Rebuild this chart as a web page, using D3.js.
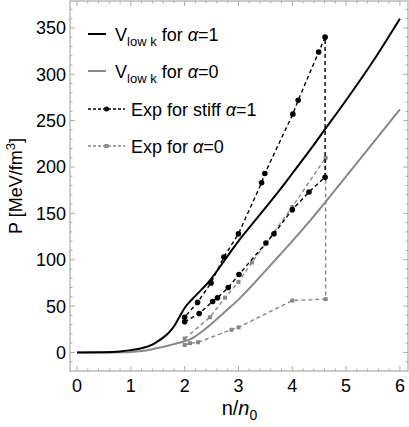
<!DOCTYPE html>
<html>
<head>
<meta charset="utf-8">
<script src="https://cdn.jsdelivr.net/npm/d3@7"></script>
<style>
body { margin: 0; background: #fff; }
text { font-family: "Liberation Sans", Arial, sans-serif; }
</style>
</head>
<body>
<script>
let width = 409, height = 427

// V_low k curves (n/n0 -> P)
let vlowX = [0, 0.5, 0.8, 1.0, 1.2, 1.4, 1.5, 1.6, 1.7, 1.8, 1.9, 2.0, 2.1, 2.2, 2.3, 2.4, 2.5, 2.75, 3.0, 3.25, 3.5, 3.75, 4.0, 4.3, 4.6, 5.0, 5.5, 6.0]
let vlowA1 = [0, 0.2, 1, 2.5, 4.5, 8.5, 12, 16, 21, 28, 38, 48, 55, 61, 67, 73, 80, 100, 120, 138, 156, 174, 193, 216, 240, 272, 314, 360]
let vlowA0 = [0, 0, 0.2, 0.5, 1.5, 3.5, 4.7, 6, 7.5, 9, 10.5, 12, 14, 17.5, 21.5, 26, 31, 44, 57, 72, 88, 104, 120, 140, 161, 190, 226, 262]

// Exp stiff alpha=1: lower branch then upper branch
let expA1x = [2.0, 2.27, 2.52, 2.61, 2.81, 3.01, 3.51, 3.66, 4.0, 4.31, 4.61, 4.61, 4.49, 4.11, 4.01, 3.49, 3.43, 3.0, 2.73, 2.49, 2.24, 2.0]
let expA1y = [33, 42, 55, 59, 70, 84, 118, 128, 154, 173, 189, 340, 324, 272, 257, 193, 183, 128, 103, 75, 54, 38]

// Exp alpha=0: lower branch then upper branch
let expA0x = [2.0, 2.1, 2.25, 2.87, 3.0, 4.0, 4.62, 4.62, 4.0, 3.25, 3.0, 2.75, 2.47, 2.0]
let expA0y = [8, 10, 11, 24.5, 27, 56, 57.5, 210, 157, 97, 76, 59, 38, 15]

let xTicks = [0, 1, 2, 3, 4, 5, 6]
let yTicks = [0, 50, 100, 150, 200, 250, 300, 350]

let mLeft = 70, mRight = 408, mTop = 1, mBottom = 371
let x = d3.scaleLinear().domain([-0.13, 6.15]).range([mLeft, mRight])
let y = d3.scaleLinear().domain([-20, 379]).range([mBottom, mTop])

let svg = d3.select("body").append("svg")
    .attr("width", width)
    .attr("height", height)

let frameColor = "#999"
let black = "#000", gray = "#888"

// frame
svg.append("rect")
    .attr("x", mLeft).attr("y", mTop)
    .attr("width", mRight - mLeft).attr("height", mBottom - mTop)
    .attr("fill", "none").attr("stroke", frameColor).attr("stroke-width", 1)

// ticks (inward, all four sides)
let ticks = svg.append("g").attr("stroke", frameColor).attr("stroke-width", 0.8)
d3.range(0, 6.01, 0.2).forEach(v => {
    let major = Math.abs(v - Math.round(v)) < 1e-6
    let len = major ? 5 : 2.5
    ticks.append("line").attr("x1", x(v)).attr("x2", x(v)).attr("y1", mBottom).attr("y2", mBottom - len)
    ticks.append("line").attr("x1", x(v)).attr("x2", x(v)).attr("y1", mTop).attr("y2", mTop + len)
})
d3.range(-10, 371, 10).forEach(v => {
    let major = v % 50 === 0
    let len = major ? 5 : 2.5
    ticks.append("line").attr("y1", y(v)).attr("y2", y(v)).attr("x1", mLeft).attr("x2", mLeft + len)
    ticks.append("line").attr("y1", y(v)).attr("y2", y(v)).attr("x1", mRight).attr("x2", mRight - len)
})

// tick labels
svg.append("g").selectAll("text").data(xTicks).join("text")
    .attr("x", d => x(d)).attr("y", 392)
    .attr("text-anchor", "middle")
    .attr("font-size", 18)
    .text(d => d)
svg.append("g").selectAll("text").data(yTicks).join("text")
    .attr("x", 66).attr("y", d => y(d) + 6.5)
    .attr("text-anchor", "end")
    .attr("font-size", 18)
    .text(d => d)

// axis labels
let xl = svg.append("text").attr("x", x(3) + 1).attr("y", 415)
    .attr("text-anchor", "middle").attr("font-size", 20)
xl.append("tspan").text("n/")
xl.append("tspan").attr("font-style", "italic").text("n")
xl.append("tspan").attr("font-size", 14).attr("dy", 5).text("0")

let yl = svg.append("text")
    .attr("transform", "translate(22,186) rotate(-90)")
    .attr("text-anchor", "middle").attr("font-size", 18)
yl.append("tspan").text("P [MeV/fm")
yl.append("tspan").attr("font-size", 13).attr("dy", -7).text("3")
yl.append("tspan").attr("dy", 7).text("]")

// curves
let lineSmooth = d3.line()
    .x(d => x(d[0])).y(d => y(d[1]))
    .curve(d3.curveMonotoneX)
let lineStraight = d3.line()
    .x(d => x(d[0])).y(d => y(d[1]))

let plot = svg.append("g")

plot.append("path")
    .attr("d", lineSmooth(d3.zip(vlowX, vlowA0)))
    .attr("fill", "none").attr("stroke", gray).attr("stroke-width", 2)
plot.append("path")
    .attr("d", lineSmooth(d3.zip(vlowX, vlowA1)))
    .attr("fill", "none").attr("stroke", black).attr("stroke-width", 2)

let exp0 = d3.zip(expA0x, expA0y)
plot.append("path")
    .attr("d", lineStraight(exp0))
    .attr("fill", "none").attr("stroke", gray).attr("stroke-width", 1.4)
    .attr("stroke-dasharray", "4,3")
plot.append("g").selectAll("rect").data(exp0).join("rect")
    .attr("x", d => x(d[0]) - 2).attr("y", d => y(d[1]) - 2)
    .attr("width", 4).attr("height", 4)
    .attr("fill", gray)

let exp1 = d3.zip(expA1x, expA1y)
plot.append("path")
    .attr("d", lineStraight(exp1))
    .attr("fill", "none").attr("stroke", black).attr("stroke-width", 1.4)
    .attr("stroke-dasharray", "4,3")
plot.append("g").selectAll("circle").data(exp1).join("circle")
    .attr("cx", d => x(d[0])).attr("cy", d => y(d[1]))
    .attr("r", 2.8).attr("fill", black)

// legend
let legend = svg.append("g")
let rows = [
    {y: 34, color: black, dash: null, kind: "line", label: "vlow", a: "1"},
    {y: 71, color: gray, dash: null, kind: "line", label: "vlow", a: "0"},
    {y: 109, color: black, dash: "3,2", kind: "circle", label: "Exp for stiff ", a: "1"},
    {y: 146, color: gray, dash: "3,2", kind: "rect", label: "Exp for ", a: "0"}
]
rows.forEach(r => {
    let g = legend.append("g")
    if (r.kind === "line") {
        g.append("line").attr("x1", 88).attr("x2", 106).attr("y1", r.y).attr("y2", r.y)
            .attr("stroke", r.color).attr("stroke-width", 2)
    } else {
        g.append("line").attr("x1", 88).attr("x2", 125).attr("y1", r.y).attr("y2", r.y)
            .attr("stroke", r.color).attr("stroke-width", 1.3).attr("stroke-dasharray", r.dash)
        if (r.kind === "circle")
            g.append("circle").attr("cx", 106.5).attr("cy", r.y).attr("r", 2.5).attr("fill", r.color)
        else
            g.append("rect").attr("x", 104.5).attr("y", r.y - 2).attr("width", 4).attr("height", 4).attr("fill", r.color)
    }
    let t = g.append("text").attr("x", r.kind === "line" ? 115 : 131).attr("y", r.y + 6.5)
        .attr("font-size", 18)
    if (r.label === "vlow") {
        t.append("tspan").text("V")
        t.append("tspan").attr("font-size", 13).attr("dy", 5).text("low k")
        t.append("tspan").attr("dy", -5).text(" for ")
    } else {
        t.append("tspan").text(r.label)
    }
    t.append("tspan").attr("font-style", "italic").text("α")
    t.append("tspan").text("=" + r.a)
})
</script>
</body>
</html>
